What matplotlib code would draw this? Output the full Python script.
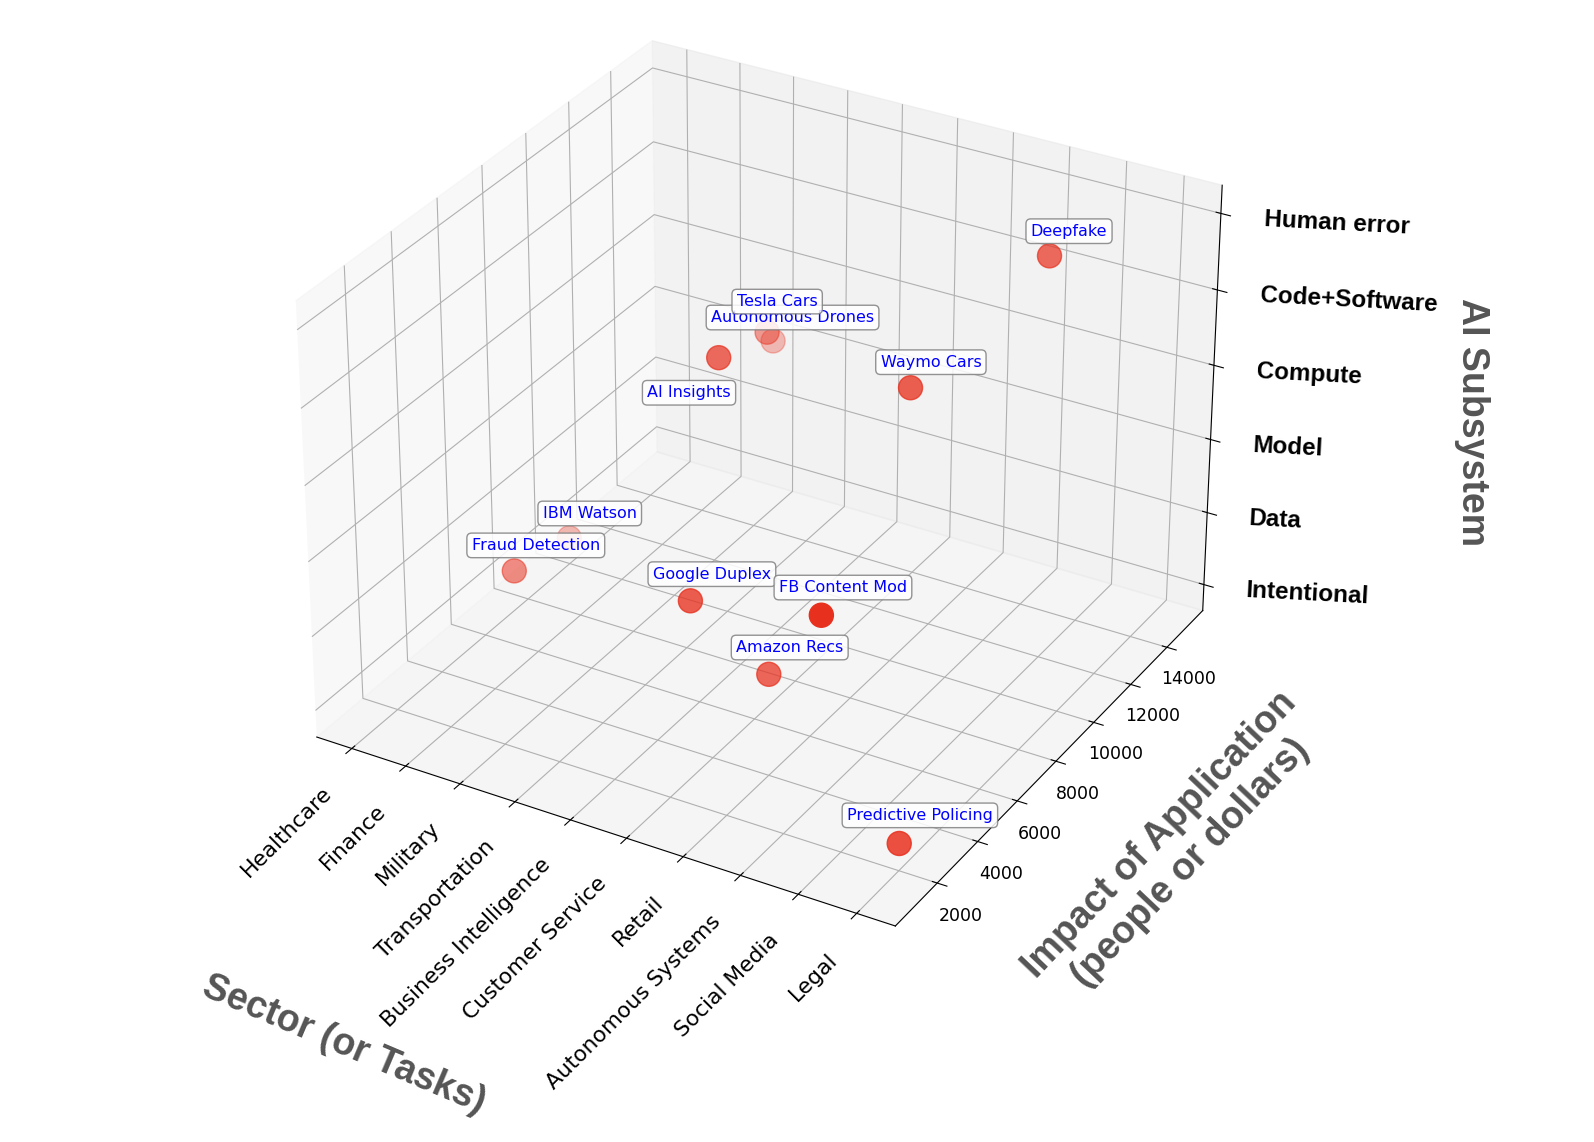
import matplotlib
matplotlib.use('Agg')
import matplotlib.pyplot as plt
import numpy as np

# ---------------- data ----------------
sectors = ['Healthcare', 'Finance', 'Military', 'Transportation',
           'Business Intelligence', 'Customer Service', 'Retail',
           'Autonomous Systems', 'Social Media', 'Legal']
subsystems = ['Intentional', 'Data', 'Model', 'Compute',
              'Code+Software', 'Human error']

app_names = ['IBM Watson', 'Fraud Detection', 'Autonomous Drones',
             'Tesla Cars', 'AI Insights', 'Google Duplex', 'Amazon Recs',
             'Waymo Cars', 'FB Content Mod', 'Deepfake', 'Predictive Policing']
app_sectors = ['Healthcare', 'Finance', 'Military', 'Transportation',
               'Business Intelligence', 'Customer Service', 'Retail',
               'Autonomous Systems', 'Social Media', 'Social Media', 'Legal']
app_impact = [10000, 5000, 15000, 12000, 7000, 3000, 4000, 8000, 1000,
              12000, 2000]
app_subsystems = ['Intentional', 'Data', 'Model', 'Compute',
                  'Code+Software', 'Model', 'Data', 'Code+Software',
                  'Compute', 'Human error', 'Intentional']

impact_ticks = [2000, 4000, 6000, 8000, 10000, 12000, 14000]

# label offsets (data units) relative to each point
label_dy = [1000, 1000, 1000, 500, -1390, 1000, 1000, 1000, 1000, 1000, 1000]
label_dz = [0.1, 0.1, 0.1, 0.3, -0.135, 0.1, 0.1, 0.1, 0.1, 0.1, 0.1]

# ---------------- figure ----------------
W, H = 1594, 1142
fig = plt.figure(figsize=(W / 100, H / 100), dpi=100)
S = 1030
cx, cy = 754, 476
ax = fig.add_axes([(cx - S / 2) / W, (H - cy - S / 2) / H, S / W, S / H],
                  projection='3d')

xs = np.array([sectors.index(s) for s in app_sectors])
ys = np.array(app_impact, dtype=float)
zs = np.array([subsystems.index(s) for s in app_subsystems])

ax.scatter(xs, ys, zs, c='#e8301e', s=300, depthshade=True)

for i, name in enumerate(app_names):
    ax.text(xs[i], ys[i] + label_dy[i], zs[i] + label_dz[i], name,
            color='blue', fontsize=11.5, ha='center', va='center',
            bbox=dict(boxstyle='round,pad=0.3', facecolor='white',
                      edgecolor='gray', alpha=0.85))

ax.set_xticks(range(len(sectors)))
ax.set_xticklabels(sectors, rotation=45, ha='right', fontsize=15.7)
ax.set_yticks(impact_ticks)
ax.set_yticklabels([str(t) for t in impact_ticks], fontsize=12.5)
ax.set_zticks(range(len(subsystems)))
ax.set_zticklabels(subsystems, fontsize=17.5, fontweight='bold',
                   family='Liberation Sans', ha='left', va='top',
                   rotation=-3)

ax.tick_params(axis='x', pad=10)
ax.tick_params(axis='y', pad=7)
ax.tick_params(axis='z', pad=10.5)

lab_kw = dict(fontsize=27, fontweight='bold', color='#555555',
              family='Liberation Sans', ha='center', va='center',
              rotation_mode='anchor')
fig.text(344 / W, 1 - 1045 / H, 'Sector (or Tasks)', rotation=-23, **lab_kw)
fig.text(1175 / W, 1 - 849 / H, 'Impact of Application\n(people or dollars)',
         rotation=46.5, **lab_kw)
fig.text(1472 / W, 1 - 422 / H, 'AI Subsystem', rotation=270, **lab_kw)

fig.savefig('out.png', dpi=100)
